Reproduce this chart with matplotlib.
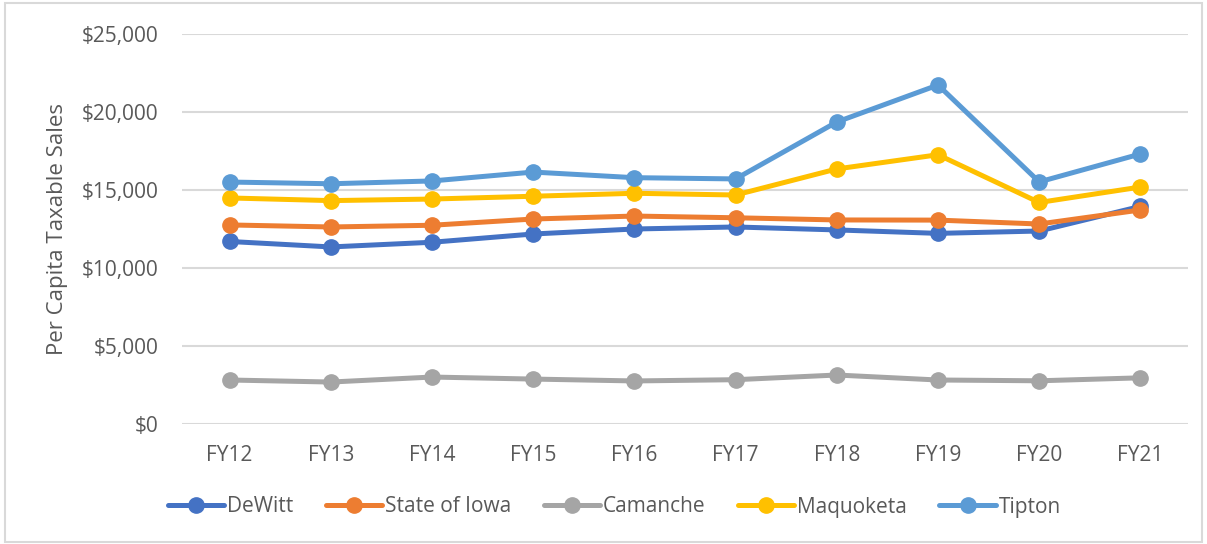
import matplotlib.pyplot as plt
from matplotlib.ticker import FuncFormatter

# fiscal years and per capita taxable sales
years = ["FY12", "FY13", "FY14", "FY15", "FY16", "FY17", "FY18", "FY19", "FY20", "FY21"]
dewitt = [11700, 11350, 11650, 12180, 12500, 12630, 12440, 12220, 12370, 13950]
state_of_iowa = [12760, 12630, 12740, 13140, 13330, 13220, 13080, 13070, 12820, 13720]
camanche = [2820, 2690, 3010, 2880, 2760, 2840, 3140, 2820, 2770, 2960]
maquoketa = [14490, 14320, 14420, 14600, 14790, 14680, 16350, 17260, 14200, 15190]
tipton = [15510, 15400, 15580, 16150, 15790, 15710, 19360, 21730, 15520, 17310]

series = [
    ("DeWitt", dewitt, "#4472C4"),
    ("State of Iowa", state_of_iowa, "#ED7D31"),
    ("Camanche", camanche, "#A5A5A5"),
    ("Maquoketa", maquoketa, "#FFC000"),
    ("Tipton", tipton, "#5B9BD5"),
]

plt.rcParams['font.family'] = ['Open Sans', 'DejaVu Sans']
text_color = "#595959"

fig = plt.figure(figsize=(12.07, 5.44), dpi=100)
ax = fig.add_axes([182/1207, 1 - 424/544, (1188-182)/1207, (424-34)/544])

x = range(len(years))
for name, vals, col in series:
    ax.plot(x, vals, '-o', color=col, linewidth=3.6, markersize=11, label=name,
            solid_capstyle='round')

ax.set_ylim(0, 25000)
ax.set_xlim(-0.47, len(years) - 0.53)
ax.set_yticks(range(0, 25001, 5000))
ax.yaxis.set_major_formatter(FuncFormatter(lambda v, p: "${:,.0f}".format(v)))
ax.set_xticks(list(x))
ax.set_xticklabels(years)
ax.grid(axis='y', color="#D9D9D9", linewidth=1.5)
ax.set_axisbelow(True)
for s in ax.spines.values():
    s.set_visible(False)
ax.tick_params(length=0, labelsize=15, colors=text_color)
ax.tick_params(axis='x', pad=15)
ax.tick_params(axis='y', pad=17)
ax.set_ylabel("Per Capita Taxable Sales", fontsize=16, color=text_color, labelpad=10)

fig.legend(loc='center', bbox_to_anchor=(0.509, 1 - 507/544), ncol=5, frameon=False,
           fontsize=15, labelcolor=text_color, handlelength=2.7, handletextpad=0.15,
           columnspacing=1.55)

fig.patches.append(plt.Rectangle((0.004, 0.004), 0.992, 0.99, transform=fig.transFigure,
                                 fill=False, edgecolor="#D9D9D9", linewidth=1.5))

plt.savefig("out.png", dpi=100)
